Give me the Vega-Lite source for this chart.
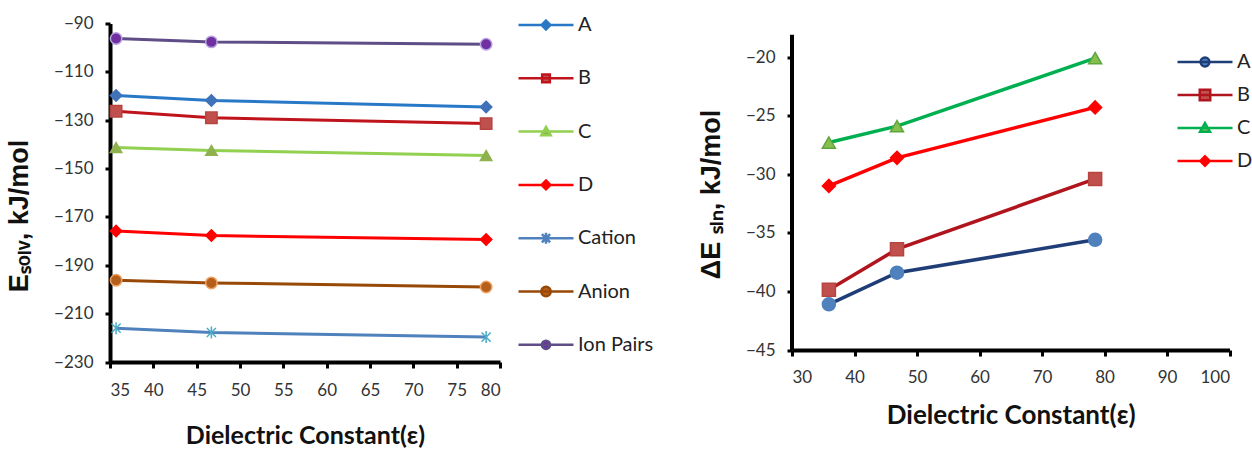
{
  "$schema": "https://vega.github.io/schema/vega-lite/v6.json",
  "padding": {"left": 5, "top": 14.5, "right": 0, "bottom": 0},
  "background": "white",
  "bounds": "flush",
  "spacing": 292,
  "resolve": {"scale": {"color": "independent", "fill": "independent", "stroke": "independent", "shape": "independent"}},
  "datasets": {
    "solv": [
      {"series": "A", "eps": 35.7, "E": -119.8},
      {"series": "A", "eps": 46.7, "E": -121.8},
      {"series": "A", "eps": 78.4, "E": -124.5},
      {"series": "B", "eps": 35.7, "E": -126.3},
      {"series": "B", "eps": 46.7, "E": -129.0},
      {"series": "B", "eps": 78.4, "E": -131.4},
      {"series": "C", "eps": 35.7, "E": -141.3},
      {"series": "C", "eps": 46.7, "E": -142.5},
      {"series": "C", "eps": 78.4, "E": -144.6},
      {"series": "D", "eps": 35.7, "E": -175.8},
      {"series": "D", "eps": 46.7, "E": -177.7},
      {"series": "D", "eps": 78.4, "E": -179.3},
      {"series": "Cation", "eps": 35.7, "E": -216.0},
      {"series": "Cation", "eps": 46.7, "E": -217.8},
      {"series": "Cation", "eps": 78.4, "E": -219.7},
      {"series": "Anion", "eps": 35.7, "E": -196.2},
      {"series": "Anion", "eps": 46.7, "E": -197.3},
      {"series": "Anion", "eps": 78.4, "E": -199.0},
      {"series": "Ion Pairs", "eps": 35.7, "E": -96.2},
      {"series": "Ion Pairs", "eps": 46.7, "E": -97.6},
      {"series": "Ion Pairs", "eps": 78.4, "E": -98.6}
    ],
    "sln": [
      {"series": "A", "eps": 35.9, "E": -41.1},
      {"series": "A", "eps": 46.8, "E": -38.4},
      {"series": "A", "eps": 78.5, "E": -35.6},
      {"series": "B", "eps": 35.9, "E": -39.85},
      {"series": "B", "eps": 46.8, "E": -36.4},
      {"series": "B", "eps": 78.5, "E": -30.4},
      {"series": "C", "eps": 35.9, "E": -27.3},
      {"series": "C", "eps": 46.8, "E": -25.9},
      {"series": "C", "eps": 78.5, "E": -20.1},
      {"series": "D", "eps": 35.9, "E": -31.0},
      {"series": "D", "eps": 46.8, "E": -28.6},
      {"series": "D", "eps": 78.5, "E": -24.3}
    ],
    "axisline": [{"x": 30, "y1": -45, "y2": -18.1}]
  },
  "hconcat": [
    {
      "width": 390,
      "height": 338.5,
      "data": {"name": "solv"},
      "encoding": {
        "x": {
          "field": "eps", "type": "quantitative",
          "scale": {"domain": [35, 80], "nice": false, "zero": false},
          "axis": {"values": [35, 40, 45, 50, 55, 60, 65, 70, 75, 80], "title": "Dielectric Constant(ε)", "labelPadding": 14, "titlePadding": 25, "titleFontSize": 25}
        },
        "y": {
          "field": "E", "type": "quantitative",
          "scale": {"domain": [-230, -90], "nice": false, "zero": false},
          "axis": {"values": [-230, -210, -190, -170, -150, -130, -110, -90], "title": "Eₛₒₗᵥ, kJ/mol", "labelPadding": 12, "tickSize": 5, "titlePadding": 20, "titleY": 192, "titleFont": "Liberation Sans", "titleFontSize": 27}
        }
      },
      "layer": [
        {
          "mark": {"type": "line", "strokeWidth": 3},
          "encoding": {
            "color": {"field": "series", "type": "nominal", "legend": null,
              "scale": {"domain": ["A", "B", "C", "D", "Cation", "Anion", "Ion Pairs"],
                "range": ["#2878c8", "#c0141c", "#92d050", "#ff0000", "#4f81bd", "#984807", "#5e4d86"]}}
          }
        },
        {
          "mark": {"type": "point", "filled": true, "opacity": 1, "size": 130, "strokeWidth": 1.5},
          "encoding": {
            "shape": {"field": "series", "type": "nominal", "legend": null,
              "scale": {"domain": ["A", "B", "C", "D", "Cation", "Anion", "Ion Pairs"],
                "range": ["diamond", "square", "triangle-up", "diamond", "M-0.8,-0.8L0.8,0.8M-0.8,0.8L0.8,-0.8M0,-1.05V1.05", "circle", "circle"]}},
            "fill": {"field": "series", "type": "nominal", "legend": null,
              "scale": {"domain": ["A", "B", "C", "D", "Cation", "Anion", "Ion Pairs"],
                "range": ["#3f72b8", "#c0504d", "#8fb24f", "#ff0000", "#4bacc6", "#b4601c", "#7030a0"]}},
            "stroke": {"field": "series", "type": "nominal", "legend": null,
              "scale": {"domain": ["A", "B", "C", "D", "Cation", "Anion", "Ion Pairs"],
                "range": ["#3f72b8", "#b84440", "#8fb24f", "#ff0000", "#4bacc6", "#f0a060", "#b9a3e3"]}}
          }
        },
        {
          "mark": {"type": "point", "filled": true, "opacity": 0, "strokeWidth": 2.5},
          "encoding": {
            "shape": {"field": "series", "type": "nominal",
              "scale": {"domain": ["A", "B", "C", "D", "Cation", "Anion", "Ion Pairs"],
                "range": [
                  "M-1,0H1M0,-0.16L0.16,0L0,0.16L-0.16,0Z",
                  "M-1,0H1M-0.14,-0.14H0.14V0.14H-0.14Z",
                  "M-1,0H1M0,-0.17L0.17,0.13H-0.17Z",
                  "M-1,0H1M0,-0.16L0.16,0L0,0.16L-0.16,0Z",
                  "M-1,0H1M-0.15,-0.15L0.15,0.15M-0.15,0.15L0.15,-0.15M0,-0.2V0.2",
                  "M-1,0H1M-0.17,0A0.17,0.17 0 1 0 0.17,0A0.17,0.17 0 1 0 -0.17,0Z",
                  "M-1,0H1M-0.15,0A0.15,0.15 0 1 0 0.15,0A0.15,0.15 0 1 0 -0.15,0Z"
                ]},
              "legend": {"orient": "none", "legendX": 407, "legendY": -8.5, "title": null, "symbolSize": 3025, "clipHeight": 20, "symbolStrokeWidth": 2.5, "symbolOpacity": 1, "labelFont": "Lato", "labelFontSize": 20, "labelColor": "#222", "labelOffset": 3, "rowPadding": 33.3, "padding": 0, "symbolOffset": 0}},
            "fill": {"field": "series", "type": "nominal",
              "scale": {"domain": ["A", "B", "C", "D", "Cation", "Anion", "Ion Pairs"],
                "range": ["#3f72b8", "#c0504d", "#8fb24f", "#ff0000", "#4bacc6", "#b4601c", "#7030a0"]},
              "legend": {"orient": "none", "legendX": 407, "legendY": -8.5, "title": null, "symbolSize": 3025, "clipHeight": 20, "symbolStrokeWidth": 2.5, "symbolOpacity": 1, "labelFont": "Lato", "labelFontSize": 20, "labelColor": "#222", "labelOffset": 3, "rowPadding": 33.3, "padding": 0, "symbolOffset": 0}},
            "stroke": {"field": "series", "type": "nominal",
              "scale": {"domain": ["A", "B", "C", "D", "Cation", "Anion", "Ion Pairs"],
                "range": ["#2878c8", "#c0141c", "#92d050", "#ff0000", "#4f81bd", "#984807", "#5e4d86"]},
              "legend": {"orient": "none", "legendX": 407, "legendY": -8.5, "title": null, "symbolSize": 3025, "clipHeight": 20, "symbolStrokeWidth": 2.5, "symbolOpacity": 1, "labelFont": "Lato", "labelFontSize": 20, "labelColor": "#222", "labelOffset": 3, "rowPadding": 33.3, "padding": 0, "symbolOffset": 0}}
          }
        }
      ],
      "resolve": {"scale": {"shape": "independent", "fill": "independent", "stroke": "independent"}}
    },
    {
      "width": 437.5,
      "height": 326.5,
      "layer": [
        {
          "data": {"name": "axisline"},
          "mark": {"type": "rule", "strokeWidth": 4, "color": "black"},
          "encoding": {
            "x": {"field": "x", "type": "quantitative"},
            "y": {"field": "y1", "type": "quantitative"},
            "y2": {"field": "y2"}
          }
        },
        {
          "data": {"name": "sln"},
          "mark": {"type": "line", "strokeWidth": 3.5},
          "encoding": {
            "x": {"field": "eps", "type": "quantitative"},
            "y": {"field": "E", "type": "quantitative"},
            "color": {"field": "series", "type": "nominal", "legend": null,
              "scale": {"domain": ["A", "B", "C", "D"], "range": ["#1f3e78", "#b0141c", "#00b050", "#ff0000"]}}
          }
        },
        {
          "data": {"name": "sln"},
          "mark": {"type": "point", "filled": true, "opacity": 1, "size": 170, "strokeWidth": 1.5},
          "encoding": {
            "x": {"field": "eps", "type": "quantitative"},
            "y": {"field": "E", "type": "quantitative"},
            "shape": {"field": "series", "type": "nominal", "legend": null,
              "scale": {"domain": ["A", "B", "C", "D"], "range": ["circle", "square", "triangle-up", "diamond"]}},
            "fill": {"field": "series", "type": "nominal", "legend": null,
              "scale": {"domain": ["A", "B", "C", "D"], "range": ["#4f81bd", "#c0504d", "#86bf4e", "#ff0000"]}},
            "stroke": {"field": "series", "type": "nominal", "legend": null,
              "scale": {"domain": ["A", "B", "C", "D"], "range": ["#4f81bd", "#b84440", "#5fa640", "#ff0000"]}}
          }
        },
        {
          "data": {"name": "sln"},
          "mark": {"type": "point", "filled": true, "opacity": 0, "strokeWidth": 2.5},
          "encoding": {
            "x": {"field": "eps", "type": "quantitative"},
            "y": {"field": "E", "type": "quantitative"},
            "shape": {"field": "series", "type": "nominal",
              "scale": {"domain": ["A", "B", "C", "D"],
                "range": [
                  "M-1,0H1M-0.16,0A0.16,0.16 0 1 0 0.16,0A0.16,0.16 0 1 0 -0.16,0Z",
                  "M-1,0H1M-0.19,-0.19H0.19V0.19H-0.19Z",
                  "M-1,0H1M0,-0.18L0.18,0.14H-0.18Z",
                  "M-1,0H1M0,-0.17L0.17,0L0,0.17L-0.17,0Z"
                ]},
              "legend": {"orient": "none", "legendX": 384, "legendY": 28.5, "title": null, "symbolSize": 3025, "clipHeight": 20, "symbolStrokeWidth": 2.5, "symbolOpacity": 1, "labelFont": "Lato", "labelFontSize": 20, "labelColor": "#222", "labelOffset": 3, "rowPadding": 13, "padding": 0, "symbolOffset": 0}},
            "fill": {"field": "series", "type": "nominal",
              "scale": {"domain": ["A", "B", "C", "D"], "range": ["#4f81bd", "#c0504d", "#86bf4e", "#ff0000"]},
              "legend": {"orient": "none", "legendX": 384, "legendY": 28.5, "title": null, "symbolSize": 3025, "clipHeight": 20, "symbolStrokeWidth": 2.5, "symbolOpacity": 1, "labelFont": "Lato", "labelFontSize": 20, "labelColor": "#222", "labelOffset": 3, "rowPadding": 13, "padding": 0, "symbolOffset": 0}},
            "stroke": {"field": "series", "type": "nominal",
              "scale": {"domain": ["A", "B", "C", "D"], "range": ["#1f3e78", "#b0141c", "#00b050", "#ff0000"]},
              "legend": {"orient": "none", "legendX": 384, "legendY": 28.5, "title": null, "symbolSize": 3025, "clipHeight": 20, "symbolStrokeWidth": 2.5, "symbolOpacity": 1, "labelFont": "Lato", "labelFontSize": 20, "labelColor": "#222", "labelOffset": 3, "rowPadding": 13, "padding": 0, "symbolOffset": 0}}
          }
        }
      ],
      "encoding": {
        "x": {
          "type": "quantitative",
          "scale": {"domain": [30, 100], "nice": false, "zero": false},
          "axis": {"values": [30, 40, 50, 60, 70, 80, 90, 100], "title": "Dielectric Constant(ε)", "labelPadding": 13, "titlePadding": 17, "titleFontSize": 26}
        },
        "y": {
          "type": "quantitative",
          "scale": {"domain": [-45, -17.14], "nice": false, "zero": false},
          "axis": {"values": [-45, -40, -35, -30, -25, -20], "title": "ΔE ₛₗₙ, kJ/mol", "domain": false, "labelPadding": 12, "tickSize": 5, "titlePadding": 20, "titleY": 170.5, "titleFont": "Liberation Sans", "titleFontSize": 27}
        }
      },
      "resolve": {"scale": {"shape": "independent", "fill": "independent", "stroke": "independent"}}
    }
  ],
  "config": {
    "view": {"stroke": null},
    "axis": {
      "grid": false,
      "domainColor": "black",
      "domainWidth": 4,
      "tickColor": "black",
      "tickWidth": 3,
      "tickSize": 6,
      "labelFont": "Lato",
      "labelFontSize": 17,
      "labelColor": "#333",
      "titleColor": "#111",
      "titleFont": "Lato",
      "titleFontWeight": "bold",
      "titleFontSize": 23
    }
  }
}
